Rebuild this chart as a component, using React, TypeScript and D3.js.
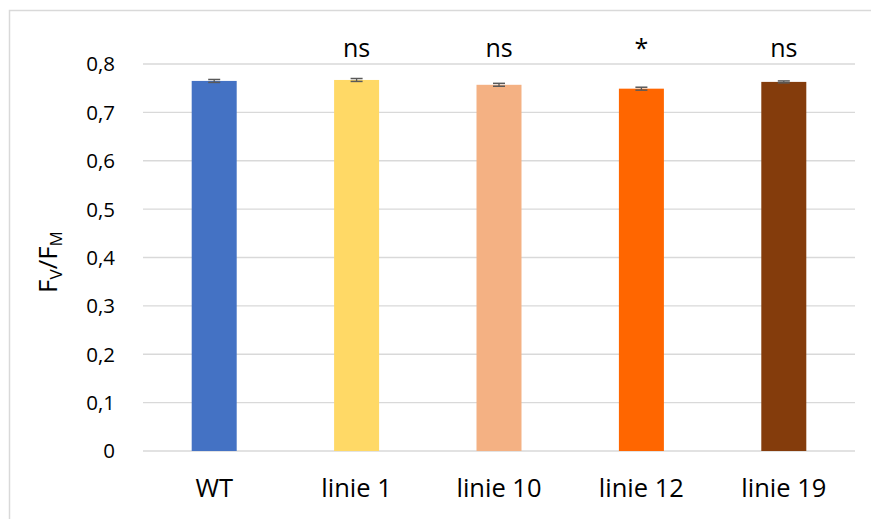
import React from "react";
import * as d3 from "d3";

const categories = ["WT", "linie 1", "linie 10", "linie 12", "linie 19"];
const values = [0.765, 0.767, 0.757, 0.749, 0.763];
const errors = [0.003, 0.003, 0.003, 0.003, 0.002];
const annotations = ["", "ns", "ns", "*", "ns"];
const colors = ["#4472C4", "#FFD966", "#F4B183", "#FF6600", "#843C0C"];
const yTicks = [0, 0.1, 0.2, 0.3, 0.4, 0.5, 0.6, 0.7, 0.8];

export default function App() {
  const W = 871, H = 519;
  const left = 143, right = 855, top = 64, bottom = 451;
  const x = d3.scaleBand().domain(categories).range([left, right]).paddingInner(0.684).paddingOuter(0.342);
  const y = d3.scaleLinear().domain([0, 0.8]).range([bottom, top]);
  const font = "'Open Sans', 'Liberation Sans', sans-serif";
  return (
    <svg width={W} height={H} style={{ position: "absolute", left: 0, top: 0, background: "#fff" }} fontFamily={font}>
      <rect x={9.5} y={10.5} width={W + 10} height={H} fill="#fff" stroke="#d9d9d9" strokeWidth={1.5} />
      {yTicks.map((t) => (
        <g key={t}>
          <line x1={left} x2={right} y1={y(t)} y2={y(t)} stroke="#d9d9d9" strokeWidth={1.3} />
          <text x={115} y={y(t)} dy="0.36em" textAnchor="end" fontSize={20.5} fill="#000">
            {d3.format(".1f")(t).replace(".", ",").replace(/^0,0$/, "0")}
          </text>
        </g>
      ))}
      {categories.map((c, i) => {
        const cx = x(c)! + x.bandwidth() / 2;
        return (
          <g key={c}>
            <rect x={x(c)} y={y(values[i])} width={x.bandwidth()} height={bottom - y(values[i])} fill={colors[i]} />
            <line x1={cx} x2={cx} y1={y(values[i] + errors[i])} y2={y(values[i] - errors[i])} stroke="#595959" strokeWidth={1.3} />
            <line x1={cx - 6} x2={cx + 6} y1={y(values[i] + errors[i])} y2={y(values[i] + errors[i])} stroke="#595959" strokeWidth={1.5} />
            <line x1={cx - 6} x2={cx + 6} y1={y(values[i] - errors[i])} y2={y(values[i] - errors[i])} stroke="#595959" strokeWidth={1.5} />
            <text x={cx} y={57} textAnchor="middle" fontSize={25} fill="#000">{annotations[i]}</text>
            <text x={cx} y={497} textAnchor="middle" fontSize={25.5} fill="#000">{c}</text>
          </g>
        );
      })}
      <text transform={`translate(57, 262) rotate(-90)`} textAnchor="middle" fontSize={26} fill="#000">
        F<tspan fontSize={17} dy={5}>V</tspan><tspan dy={-5}>/F</tspan><tspan fontSize={17} dy={5}>M</tspan>
      </text>
    </svg>
  );
}
